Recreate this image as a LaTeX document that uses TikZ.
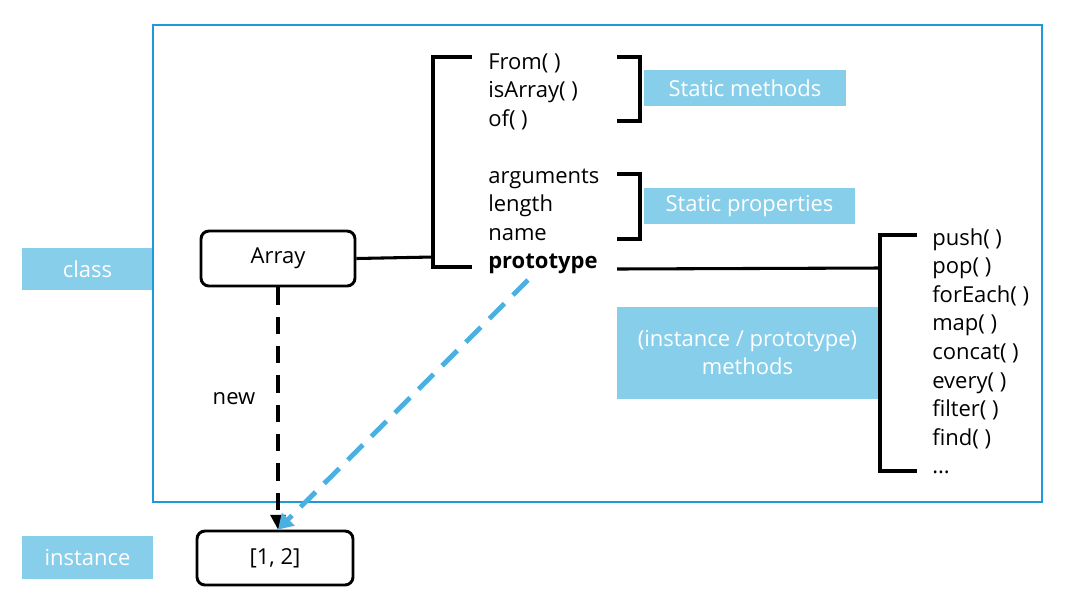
\documentclass[tikz,border=0pt]{standalone}
\usepackage{fontspec}
\setmainfont{Open Sans}
\usetikzlibrary{arrows.meta}
\definecolor{lblue}{RGB}{135,206,235}
\definecolor{frameblue}{RGB}{30,155,215}
\definecolor{dashblue}{RGB}{75,175,225}
\begin{document}
\begin{tikzpicture}[x=0.75pt,y=-0.75pt,
 every node/.style={font=\fontsize{16.5}{20}\selectfont},
 lbl/.style={fill=lblue, text=white, inner sep=0pt, draw=none},
 obj/.style={draw=black, line width=2.2pt, rounded corners=6pt, inner sep=0pt},
 item/.style={anchor=base west, inner sep=0pt},
 brk/.style={line width=2.3pt},
]
\useasboundingbox (0,0) rectangle (1066,608);
% side labels
\node[lbl, minimum width=98.25pt, minimum height=31.5pt] (class) at (87.5,269) {class};
\node[lbl, minimum width=98.25pt, minimum height=32.25pt] (instance) at (87.5,557.5) {instance};
% frame
\draw[frameblue, line width=1.5pt] (153,25) rectangle (1042,502);
% objects
\node[obj, minimum width=115.5pt, minimum height=41.25pt] (array) at (278,258.5) {Array};
\node[obj, minimum width=117pt, minimum height=40.5pt] (inst) at (275,558) {[1, 2]};
% left list
\node[item] (from) at (488,69) {From( )};
\node[item] (isarray) at (488,97.5) {isArray( )};
\node[item] (of) at (488,126) {of( )};
\node[item] (arguments) at (488,183) {arguments};
\node[item] (length) at (488,211.5) {length};
\node[item] (name) at (488,240) {name};
\node[item, font=\fontsize{16.5}{20}\selectfont\bfseries] (proto) at (488,268.5) {prototype};
% big bracket
\coordinate (bt) at (472,57);
\coordinate (bb) at (472,267);
\coordinate (bj) at (433,257);
\draw[brk] (bt) -- (433,57) -- (433,267) -- (bb);
\draw[brk] (array.east) -- (bj);
% static methods
\draw[brk] (617,57) -- (640,57) -- (640,121) -- (617,121);
\node[lbl, minimum width=151.5pt, minimum height=27pt] (sm) at (745,88) {Static methods};
% static properties
\draw[brk] (617,174) -- (640,174) -- (640,239) -- (617,239);
\node[lbl, minimum width=158.25pt, minimum height=27pt] (sp) at (749.5,206) {Static properties};
% prototype link
\coordinate (ps) at (617,269);
\coordinate (rj) at (880,268);
\draw[brk] (ps) -- (rj);
% right bracket
\draw[brk] (917,235) -- (880,235) -- (880,471) -- (917,471);
\node[lbl, minimum width=195.75pt, minimum height=69pt, align=center, font=\fontsize{16.5}{21}\selectfont] (im) at (747.5,353) {(instance / prototype)\\methods};
% right list
\node[item] (push) at (932,245) {push( )};
\node[item] (pop) at (932,273.6) {pop( )};
\node[item] (foreach) at (932,302.2) {forEach( )};
\node[item] (map) at (932,330.8) {map( )};
\node[item] (concat) at (932,359.4) {concat( )};
\node[item] (every) at (932,388) {every( )};
\node[item] (filter) at (932,416.6) {filter( )};
\node[item] (find) at (932,445.2) {find( )};
\node[item] (more) at (932,473.8) {...};
% new arrow
\node (new) at (234,399) {new};
\draw[line width=3pt, dash pattern=on 13pt off 9pt, -{Triangle[width=11pt,length=11pt]}] (array.south) -- (array.south |- inst.north);
% prototype arrow
\coordinate (pb) at (528,280);
\draw[dashblue, line width=3.6pt, dash pattern=on 16pt off 9pt, -{Triangle[width=13pt,length=11pt]}] (pb) -- (array.south |- inst.north);
\end{tikzpicture}
\end{document}
